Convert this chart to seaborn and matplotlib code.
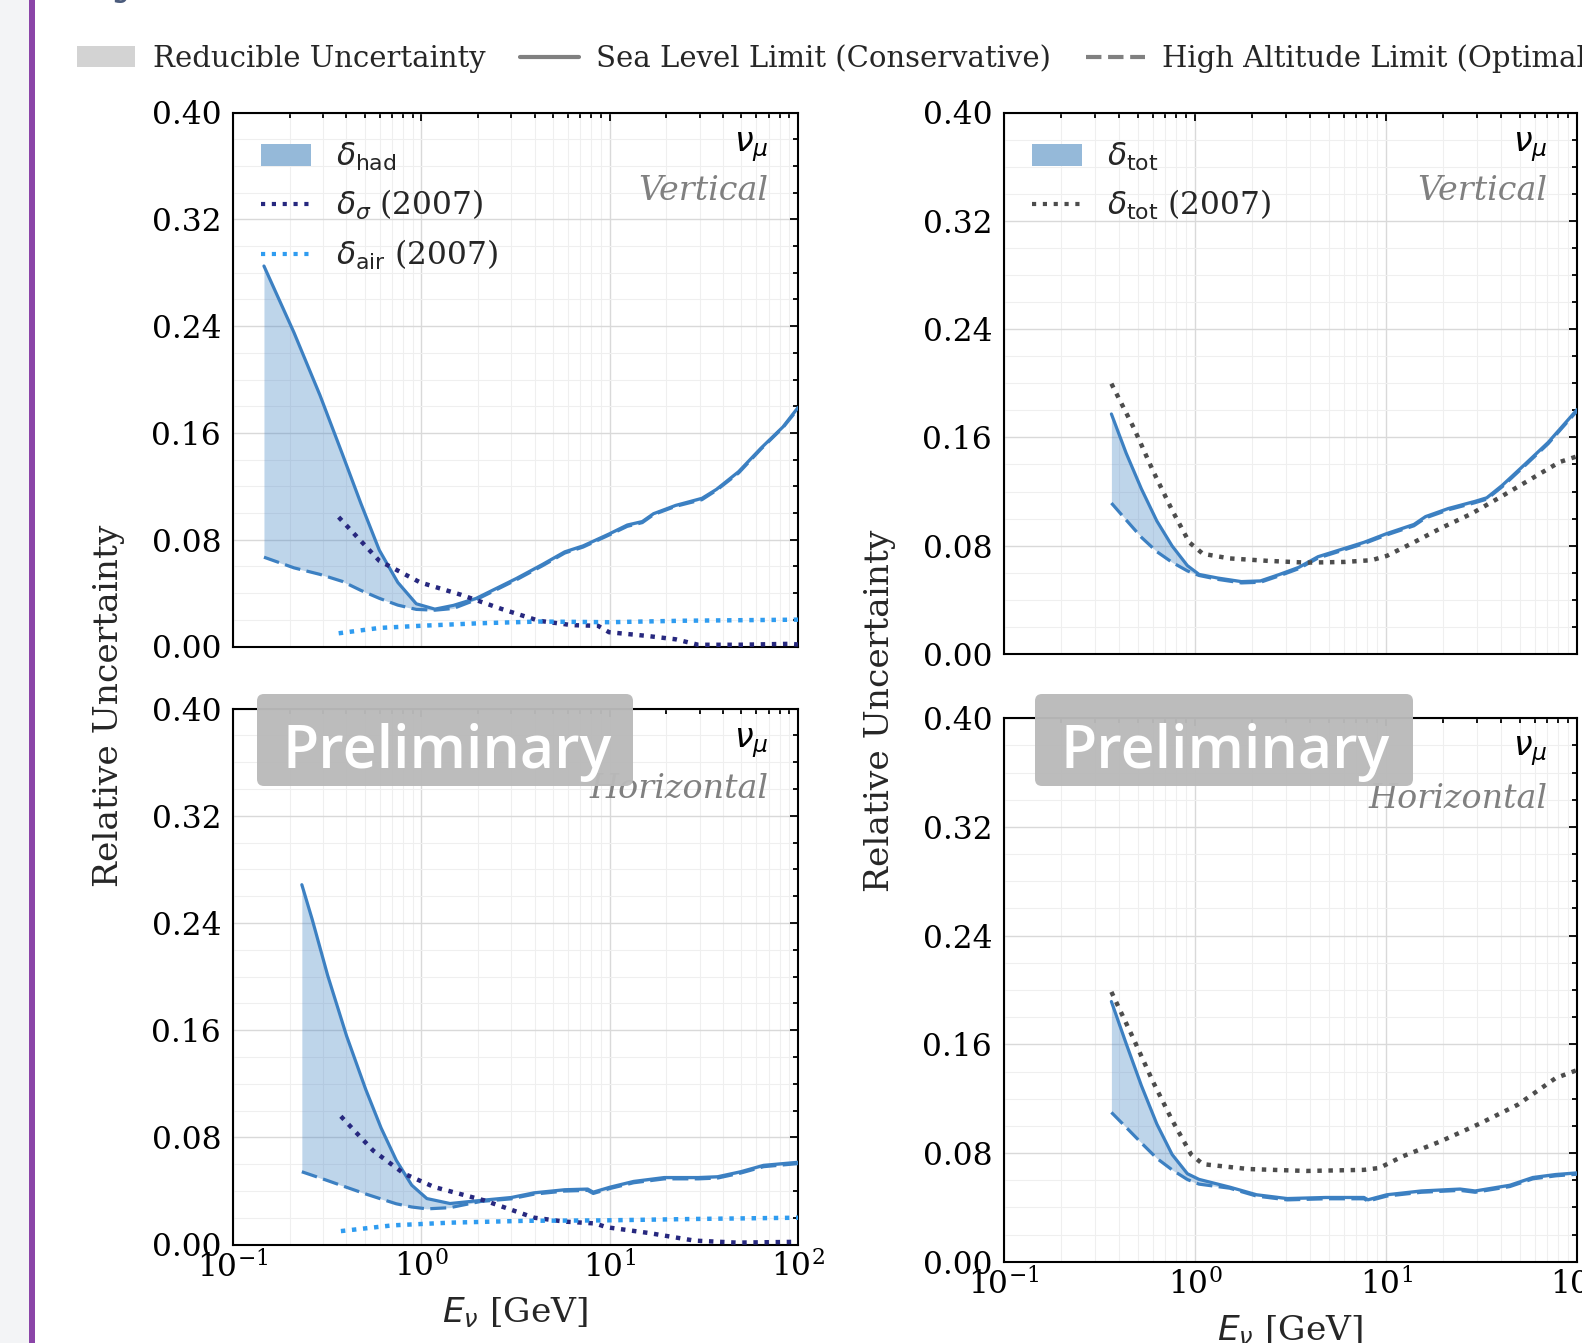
import numpy as np
import pandas as pd
import matplotlib
matplotlib.use("Agg")
import matplotlib.pyplot as plt
import seaborn as sns
from matplotlib.patches import Patch, Rectangle, FancyBboxPatch
from matplotlib.lines import Line2D
from matplotlib.ticker import MultipleLocator, FormatStrFormatter, LogLocator, NullFormatter

# ---------------- data ----------------
# Top-left: Vertical, delta_had
tl_E = [0.146, 0.211, 0.29, 0.38, 0.478, 0.598, 0.75, 0.94, 1.18, 1.48, 1.95, 2.67, 3.2, 4.4,
        5.77, 7.23, 9.93, 12.4, 14.9, 17.1, 22.4, 30.9, 36.9, 48.4, 63.5, 83.2, 100]
tl_sea = [0.285, 0.235, 0.188, 0.1445, 0.107, 0.0722, 0.048, 0.032, 0.028, 0.0308, 0.036, 0.0455,
          0.051, 0.0615, 0.0709, 0.0754, 0.0843, 0.091, 0.0936, 0.0995, 0.1057, 0.111, 0.1177,
          0.131, 0.1485, 0.1645, 0.179]
tl_high = [0.0669, 0.0589, 0.054, 0.0488, 0.042, 0.0361, 0.031, 0.0278, 0.0272, 0.0285, 0.035,
           0.0445, 0.050, 0.0605, 0.070, 0.0745, 0.0835, 0.090, 0.0928, 0.0988, 0.105, 0.110,
           0.117, 0.130, 0.1478, 0.164, 0.178]
tl_sig_E = [0.364, 0.598, 0.986, 1.62, 2.67, 4.2, 6.3, 8.67, 9.93, 15.6, 22.4, 29.5, 48.4, 91.2, 100]
tl_sig = [0.0969, 0.0642, 0.048, 0.0388, 0.0281, 0.0193, 0.016, 0.0155, 0.0107, 0.008, 0.0054,
          0.0013, 0.0013, 0.002, 0.0015]
tl_air_E = [0.364, 0.598, 0.986, 2.03, 4.2, 9.93, 24.5, 100]
tl_air = [0.0099, 0.0139, 0.0155, 0.0174, 0.0187, 0.0182, 0.0193, 0.0201]

# Top-right: Vertical, delta_tot
tr_E = [0.365, 0.436, 0.524, 0.631, 0.759, 0.912, 1.05, 1.32, 1.75, 2.2, 2.77, 3.49, 4.41, 5.81,
        7.66, 10.1, 14.0, 16.1, 21.2, 29.3, 33.7, 40.6, 53.6, 70.6, 100]
tr_sea = [0.1773, 0.1484, 0.122, 0.0983, 0.0798, 0.0653, 0.0588, 0.0561, 0.0535, 0.054, 0.0588,
          0.064, 0.0719, 0.0772, 0.0825, 0.089, 0.0957, 0.1015, 0.1075, 0.1128, 0.1154, 0.1246,
          0.1404, 0.1563, 0.1805]
tr_high = [0.1115, 0.099, 0.0862, 0.0756, 0.0677, 0.0614, 0.058, 0.0551, 0.0525, 0.053, 0.0578,
           0.063, 0.0709, 0.0762, 0.0815, 0.088, 0.0947, 0.1005, 0.1065, 0.1118, 0.1144, 0.1236,
           0.1394, 0.1553, 0.1795]
tr_old_E = [0.365, 0.479, 0.603, 0.759, 0.933, 1.1, 1.52, 2.41, 3.83, 6.08, 8.41, 10.1, 14.0,
            19.4, 28.0, 40.6, 58.6, 81.1, 100]
tr_old = [0.1997, 0.1668, 0.1352, 0.1062, 0.0825, 0.074, 0.0706, 0.0688, 0.0675, 0.068, 0.0693,
          0.0725, 0.0825, 0.093, 0.1036, 0.1167, 0.13, 0.1418, 0.146]

# Bottom-left: Horizontal, delta_had
bl_E = [0.232, 0.263, 0.318, 0.401, 0.507, 0.611, 0.736, 0.889, 1.07, 1.42, 2.06, 3.0, 3.97,
        5.77, 7.64, 8.18, 10.1, 13.4, 19.5, 29.6, 37.4, 49.5, 65.6, 100]
bl_sea = [0.2686, 0.243, 0.201, 0.1557, 0.1157, 0.0871, 0.0629, 0.0443, 0.0343, 0.0306, 0.0329,
          0.0351, 0.0386, 0.0409, 0.0414, 0.0391, 0.0429, 0.0471, 0.05, 0.05, 0.0506, 0.0543,
          0.0591, 0.0614]
bl_high = [0.0543, 0.0517, 0.0477, 0.0427, 0.0377, 0.034, 0.0304, 0.028, 0.0266, 0.0275, 0.0321,
           0.0341, 0.0376, 0.0399, 0.0404, 0.0381, 0.0419, 0.0461, 0.049, 0.049, 0.0496, 0.0533,
           0.0581, 0.0604]
bl_sig_E = [0.374, 0.556, 0.809, 1.17, 2.16, 3.97, 5.77, 8.38, 9.64, 16.1, 28.2, 47.3, 100]
bl_sig = [0.0957, 0.07, 0.0529, 0.0429, 0.0329, 0.02, 0.0171, 0.0157, 0.0129, 0.0086, 0.0029,
          0.0014, 0.002]
bl_air_E = [0.374, 0.703, 1.42, 3.61, 9.2, 29.6, 100]
bl_air = [0.01, 0.0143, 0.0163, 0.0177, 0.018, 0.0191, 0.02]

# Bottom-right: Horizontal, delta_tot
br_E = [0.365, 0.436, 0.524, 0.631, 0.759, 0.912, 1.05, 1.52, 2.1, 3.04, 4.83, 7.67, 8.04, 10.1,
        15.3, 24.4, 29.3, 44.5, 58.7, 77.4, 100]
br_sea = [0.1915, 0.1606, 0.1296, 0.1014, 0.0789, 0.0648, 0.0606, 0.0549, 0.0493, 0.0465, 0.0473,
          0.0473, 0.0456, 0.0493, 0.0521, 0.0535, 0.0521, 0.0563, 0.062, 0.0642, 0.0654]
br_high = [0.1099, 0.0989, 0.0874, 0.0761, 0.0676, 0.0605, 0.0571, 0.0541, 0.0483, 0.0455,
           0.0463, 0.0463, 0.0446, 0.0483, 0.0511, 0.0525, 0.0511, 0.0553, 0.061, 0.0632, 0.0644]
br_old_E = [0.365, 0.479, 0.603, 0.759, 0.955, 1.1, 1.91, 3.83, 7.67, 9.23, 12.2, 19.4, 30.7,
            48.9, 77.4, 100]
br_old = [0.1986, 0.1634, 0.1324, 0.1042, 0.0789, 0.0718, 0.0682, 0.0668, 0.0676, 0.069, 0.0775,
          0.0887, 0.1014, 0.1155, 0.1352, 0.141]

y_ticks = [0.00, 0.08, 0.16, 0.24, 0.32, 0.40]
x_lim = (0.1, 100)
top_legend_labels = ["Reducible Uncertainty", "Sea Level Limit (Conservative)",
                     "High Altitude Limit (Optimal)"]

# ---------------- style ----------------
sns.set_theme(style="white")
plt.rcParams["font.family"] = ["DejaVu Serif"]
plt.rcParams["mathtext.fontset"] = "dejavusans"
plt.rcParams["axes.unicode_minus"] = True

BLUE = "#3c80c2"
NAVY = "#27287f"
LIGHT = "#2f9cf0"
DGRAY = "#4d4d4d"
FS_TICK = 22.5
FS_LAB = 24.8

W, H = 1582, 1343
fig = plt.figure(figsize=(W / 100, H / 100), dpi=100)
fig.patch.set_facecolor("white")


def rect(l, t, r, b):
    return [l / W, 1 - b / H, (r - l) / W, (b - t) / H]


ax_tl = fig.add_axes(rect(233, 112.5, 798, 646.5))
ax_bl = fig.add_axes(rect(233, 708.7, 798, 1244.5))
ax_tr = fig.add_axes(rect(1004, 112.5, 1577, 654))
ax_br = fig.add_axes(rect(1004, 718.3, 1577, 1261.7))


def style_axis(ax, show_x):
    ax.set_xscale("log")
    ax.set_xlim(*x_lim)
    ax.set_ylim(0, 0.40)
    ax.set_yticks(y_ticks)
    ax.yaxis.set_minor_locator(MultipleLocator(0.02))
    ax.yaxis.set_major_formatter(FormatStrFormatter("%.2f"))
    ax.xaxis.set_major_locator(LogLocator(base=10, numticks=10))
    ax.xaxis.set_minor_locator(LogLocator(base=10, subs=np.arange(2, 10), numticks=20))
    ax.xaxis.set_minor_formatter(NullFormatter())
    ax.tick_params(which="both", direction="in", top=True, right=True,
                   labelsize=FS_TICK, colors="black", width=1.3)
    ax.tick_params(which="major", length=6)
    ax.tick_params(which="minor", length=3.5)
    ax.tick_params(axis="x", which="major", pad=5)
    ax.tick_params(axis="y", which="major", pad=8.5)
    ax.grid(which="major", color="#d9d9d9", linewidth=1.0)
    ax.grid(which="minor", color="#efefef", linewidth=0.8)
    ax.set_axisbelow(True)
    for s in ax.spines.values():
        s.set_linewidth(1.5)
        s.set_color("black")
    if not show_x:
        ax.tick_params(axis="x", which="both", labelbottom=False)
    ax.set_xlabel("")
    ax.set_ylabel("")


def draw_band(ax, E, sea, high):
    ax.fill_between(E, high, sea, color=BLUE, alpha=0.33, linewidth=0, zorder=2)
    df = pd.DataFrame({"E": E, "sea": sea, "high": high})
    sns.lineplot(data=df, x="E", y="sea", ax=ax, color=BLUE, linewidth=2.3, zorder=3)
    sns.lineplot(data=df, x="E", y="high", ax=ax, color=BLUE, linewidth=2.3,
                 linestyle=(0, (5, 2)), zorder=3)


def draw_dotted(ax, E, vals, color):
    df = pd.DataFrame({"E": E, "v": vals})
    sns.lineplot(data=df, x="E", y="v", ax=ax, color=color, linewidth=3.2,
                 linestyle=(0, (1, 1.5)), zorder=4)


# top-left
draw_band(ax_tl, tl_E, tl_sea, tl_high)
draw_dotted(ax_tl, tl_sig_E, tl_sig, NAVY)
draw_dotted(ax_tl, tl_air_E, tl_air, LIGHT)
# bottom-left
draw_band(ax_bl, bl_E, bl_sea, bl_high)
draw_dotted(ax_bl, bl_sig_E, bl_sig, NAVY)
draw_dotted(ax_bl, bl_air_E, bl_air, LIGHT)
# top-right
draw_band(ax_tr, tr_E, tr_sea, tr_high)
draw_dotted(ax_tr, tr_old_E, tr_old, DGRAY)
# bottom-right
draw_band(ax_br, br_E, br_sea, br_high)
draw_dotted(ax_br, br_old_E, br_old, DGRAY)

for ax, showx in [(ax_tl, False), (ax_bl, True), (ax_tr, False), (ax_br, True)]:
    style_axis(ax, showx)

# panel annotations
for ax, lab, ynu, ylab in [(ax_tl, "Vertical", 0.935, 0.853), (ax_tr, "Vertical", 0.937, 0.855),
                           (ax_bl, "Horizontal", 0.936, 0.850), (ax_br, "Horizontal", 0.940, 0.852)]:
    ax.text(0.948, ynu, r"$\nu_\mu$", transform=ax.transAxes, ha="right", va="center",
            fontsize=24, color="black", zorder=6)
    ax.text(0.948, ylab, lab, transform=ax.transAxes, ha="right", va="center",
            fontsize=24, style="italic", color="#808080", zorder=6)

# legends inside panels
patch_h = Patch(facecolor="#95b9d9", edgecolor="none")
leg_kw = dict(loc="upper left", frameon=False, fontsize=22.5, handlelength=1.6,
              handletextpad=0.8, labelspacing=0.5)
ax_tl.legend([patch_h,
              Line2D([], [], color=NAVY, lw=3, linestyle=(0, (1, 1.6))),
              Line2D([], [], color=LIGHT, lw=3, linestyle=(0, (1, 1.6)))],
             [r"$\delta_{\mathrm{had}}$", r"$\delta_\sigma$ (2007)", r"$\delta_{\mathrm{air}}$ (2007)"],
             **leg_kw)
ax_tr.legend([patch_h, Line2D([], [], color=DGRAY, lw=3, linestyle=(0, (1, 1.6)))],
             [r"$\delta_{\mathrm{tot}}$", r"$\delta_{\mathrm{tot}}$ (2007)"], **leg_kw)

# axis labels
for ax in (ax_bl, ax_br):
    ax.set_xlabel(r"$E_\nu$ [GeV]", fontsize=FS_LAB)
    ax.xaxis.set_label_coords(0.5, -0.095)
fig.text(109 / W, 1 - 706 / H, "Relative Uncertainty", rotation=90, ha="center", va="center",
         fontsize=FS_LAB)
fig.text(880 / W, 1 - 711 / H, "Relative Uncertainty", rotation=90, ha="center", va="center",
         fontsize=FS_LAB)

# top figure legend
top_handles = [Patch(facecolor="#d3d3d3", edgecolor="none"),
               Line2D([], [], color="#808080", lw=3),
               Line2D([], [], color="#808080", lw=3, linestyle="--")]
fig.legend(top_handles, top_legend_labels, loc="center left",
           bbox_to_anchor=(77 / W, 1 - 58.5 / H), ncol=3, frameon=False, fontsize=21,
           handlelength=2.0, handletextpad=0.6, columnspacing=1.2, borderpad=0,
           borderaxespad=0)

# slide decorations: left strip and purple bar
fig.add_artist(Rectangle((0, 0), 29 / W, 1, transform=fig.transFigure,
                         facecolor="#f3f4f6", edgecolor="none", zorder=0))
fig.add_artist(Rectangle((29 / W, 0), 6 / W, 1, transform=fig.transFigure,
                         facecolor="#8b45a8", edgecolor="none", zorder=0))
fig.text(112 / W, 1 + 9 / H, "y", fontsize=40, color="#4b5b7c", ha="left", va="baseline")

# "Preliminary" stamps
for (l, r_, tx) in [(257, 633, 282), (1035, 1413, 1060)]:
    box = FancyBboxPatch(((l) / 100, (H - 786) / 100), (r_ - l) / 100, 0.92,
                         boxstyle="round,pad=0,rounding_size=0.07",
                         transform=fig.dpi_scale_trans, facecolor="#bababa",
                         edgecolor="none", alpha=0.97, zorder=10)
    fig.add_artist(box)
    fig.text(tx / W, 1 - 768 / H, "Preliminary", fontsize=42.5, color="white",
             family=["Open Sans", "DejaVu Sans"], weight="semibold",
             ha="left", va="baseline", zorder=11)

fig.savefig("out.png", dpi=100)
